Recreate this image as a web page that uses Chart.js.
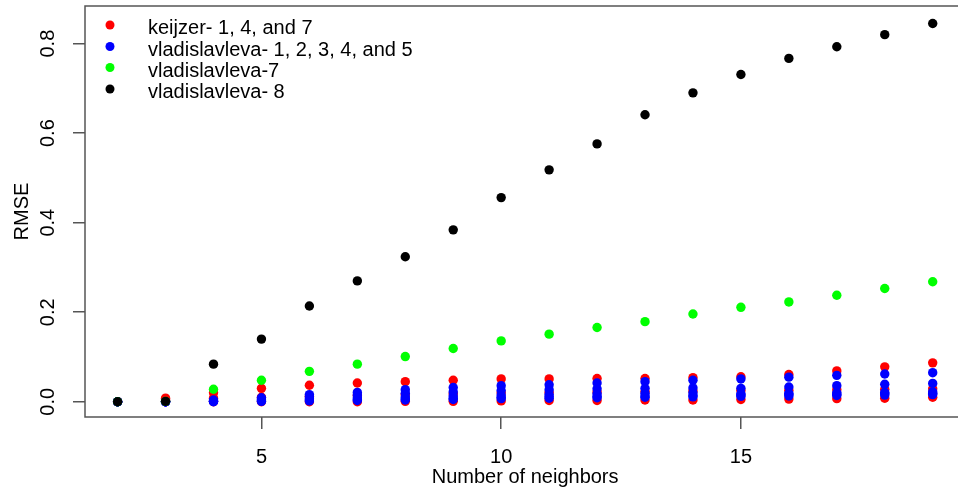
<!DOCTYPE html>
<html><head><meta charset="utf-8">
<script src="https://cdn.jsdelivr.net/npm/chart.js@4.4.1/dist/chart.umd.min.js"></script>
<style>
html,body{margin:0;padding:0;background:#fff;overflow:hidden;width:958px;height:491px}
#wrap{width:970px;height:491px}
</style></head>
<body><div id="wrap"><canvas id="c" width="970" height="491"></canvas></div>
<script>
// ---- data ----
const neighbors = [2,3,4,5,6,7,8,9,10,11,12,13,14,15,16,17,18,19];
const keijzer1 = [0,0.008,0.020,0.030,0.037,0.042,0.045,0.048,0.051,0.051,0.052,0.052,0.054,0.056,0.061,0.069,0.078,0.087];
const keijzer4 = [0,0.004,0.008,0.010,0.012,0.014,0.016,0.018,0.020,0.021,0.022,0.023,0.024,0.025,0.026,0.027,0.028,0.029];
const keijzer7 = [0,0,0,0,0,0,0.001,0.001,0.002,0.003,0.003,0.004,0.004,0.005,0.006,0.007,0.008,0.010];
const vlad1 = [0,0,0.004,0.009,0.016,0.021,0.027,0.032,0.036,0.038,0.042,0.045,0.048,0.051,0.055,0.059,0.062,0.065];
const vlad2 = [0,0,0.002,0.006,0.011,0.015,0.019,0.022,0.025,0.027,0.029,0.030,0.031,0.030,0.033,0.036,0.039,0.041];
const vlad3 = [0,0,0.001,0.004,0.007,0.009,0.011,0.013,0.015,0.016,0.018,0.019,0.020,0.018,0.019,0.020,0.021,0.022];
const vlad4 = [0,0,0.001,0.002,0.004,0.005,0.007,0.008,0.010,0.011,0.012,0.013,0.014,0.015,0.016,0.017,0.018,0.019];
const vlad5 = [0,0,0,0.001,0.002,0.003,0.004,0.005,0.007,0.008,0.009,0.010,0.011,0.012,0.013,0.014,0.015,0.016];
const vlad7 = [0,0.001,0.028,0.048,0.068,0.084,0.101,0.119,0.136,0.151,0.166,0.179,0.196,0.211,0.223,0.238,0.253,0.268];
const vlad8 = [0,0.001,0.084,0.140,0.214,0.270,0.324,0.384,0.456,0.518,0.576,0.641,0.690,0.731,0.767,0.793,0.820,0.845];

const xTicks = [5,10,15];
const xTickLabels = ['5','10','15'];
const yTicks = [0,0.2,0.4,0.6,0.8];
const yTickLabels = ['0.0','0.2','0.4','0.6','0.8'];
const legendLabels = ['keijzer- 1, 4, and 7','vladislavleva- 1, 2, 3, 4, and 5','vladislavleva-7','vladislavleva- 8'];
const legendColors = ['#ff0000','#0000ff','#00ff00','#000000'];

// ---- build ----
const FONT = '"Liberation Sans", Arial, sans-serif';
const AXIS = '#555555';
function pts(ys){ return neighbors.map((x,i)=>({x:x, y:ys[i]})); }
function ds(ys,color){ return {data:pts(ys), showLine:false, pointRadius:4.7, pointBorderWidth:0,
  backgroundColor:color, borderColor:color, pointStyle:'circle'}; }
// index 0 is drawn on top in Chart.js, so list top-most first
const datasets = [
  ds(vlad8,legendColors[3]),
  ds(vlad7,legendColors[2]),
  ds(vlad5,legendColors[1]), ds(vlad4,legendColors[1]), ds(vlad3,legendColors[1]), ds(vlad2,legendColors[1]), ds(vlad1,legendColors[1]),
  ds(keijzer7,legendColors[0]), ds(keijzer4,legendColors[0]), ds(keijzer1,legendColors[0])
];

const decor = {
  id:'decor',
  afterDraw(chart){
    const ctx = chart.ctx, a = chart.chartArea, ys = chart.scales.y;
    ctx.save();
    ctx.strokeStyle = AXIS; ctx.lineWidth = 1.5;
    ctx.beginPath();
    ctx.moveTo(a.right+5, a.top); ctx.lineTo(a.left, a.top);
    ctx.lineTo(a.left, a.bottom); ctx.lineTo(a.right+5, a.bottom);
    ctx.stroke();
    ctx.fillStyle = '#000';
    ctx.font = '20px ' + FONT;
    // y tick labels (rotated, parallel to axis)
    yTicks.forEach((v,i)=>{
      const py = ys.getPixelForValue(v);
      ctx.save(); ctx.translate(54, py); ctx.rotate(-Math.PI/2);
      ctx.textAlign='center'; ctx.textBaseline='alphabetic';
      ctx.fillText(yTickLabels[i],0,0); ctx.restore();
    });
    // axis titles
    ctx.save(); ctx.translate(28,(a.top+a.bottom)/2); ctx.rotate(-Math.PI/2);
    ctx.textAlign='center'; ctx.textBaseline='alphabetic'; ctx.fillText('RMSE',0,0); ctx.restore();
    ctx.textAlign='center'; ctx.textBaseline='alphabetic';
    ctx.fillText('Number of neighbors',(a.left+a.right)/2,482.5);
    // legend
    const rows=[25,46.5,67.5,89];
    legendLabels.forEach((t,i)=>{
      ctx.fillStyle=legendColors[i];
      ctx.beginPath(); ctx.arc(110,rows[i],4.5,0,Math.PI*2); ctx.fill();
      ctx.fillStyle='#000'; ctx.textAlign='left'; ctx.textBaseline='alphabetic';
      ctx.fillText(t,148,rows[i]+9);
    });
    ctx.restore();
  }
};

new Chart(document.getElementById('c'),{
  type:'scatter',
  data:{datasets:datasets},
  options:{
    responsive:false, animation:false, events:[],
    layout:{padding:{top:6,right:3,left:0,bottom:0}},
    plugins:{legend:{display:false},tooltip:{enabled:false}},
    scales:{
      x:{type:'linear', min:1.32, max:19.68,
        afterBuildTicks:s=>{s.ticks=xTicks.map(v=>({value:v}));},
        afterFit:s=>{s.height=74;},
        ticks:{autoSkip:false,maxRotation:0,minRotation:0,padding:16,color:'#000',
          font:{family:FONT,size:20},
          callback:(v)=>{const k=xTicks.indexOf(v);return k>=0?xTickLabels[k]:'';}},
        grid:{display:true,drawOnChartArea:false,drawTicks:true,tickLength:12,color:AXIS,lineWidth:1.5},
        border:{display:false}
      },
      y:{type:'linear', min:-0.034, max:0.884,
        afterBuildTicks:s=>{s.ticks=yTicks.map(v=>({value:v}));},
        afterFit:s=>{s.width=85;},
        ticks:{display:false},
        grid:{display:true,drawOnChartArea:false,drawTicks:true,tickLength:12,color:AXIS,lineWidth:1.5},
        border:{display:false}
      }
    }
  },
  plugins:[decor]
});
</script>
</body></html>
